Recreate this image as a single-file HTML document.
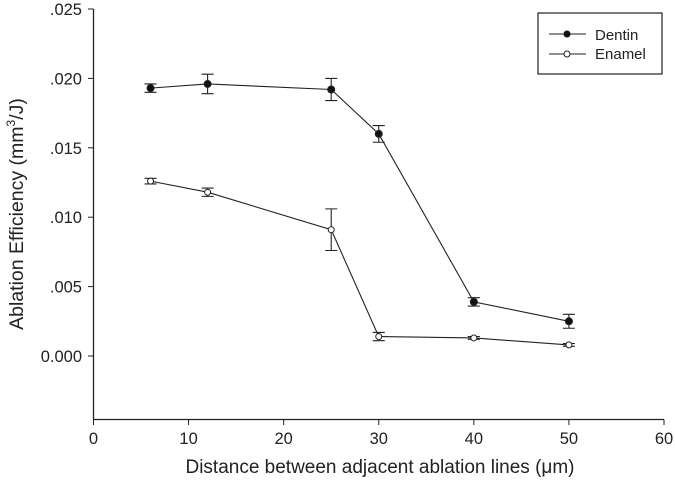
<!DOCTYPE html>
<html><head><meta charset="utf-8"><style>
body{margin:0;background:#fff;}
svg text{font-family:"Liberation Sans",Arial,sans-serif;fill:#222;}
</style></head><body>
<svg id="chart" width="675" height="491" xmlns="http://www.w3.org/2000/svg">
<g id="axes"></g>
<g id="marks"></g>
<text x="380" y="473" font-size="19" text-anchor="middle">Distance between adjacent ablation lines (μm)</text>
<text transform="translate(23,214) rotate(-90)" font-size="19.5" text-anchor="middle">Ablation Efficiency (mm<tspan font-size="12" dy="-8">3</tspan><tspan dy="8">/J)</tspan></text>
<g>
<rect x="538" y="13" width="124" height="61" fill="#fff" stroke="#222" stroke-width="1.2"/>
<g>
<line x1="549" y1="34" x2="586" y2="34" stroke="#222"/><circle cx="567" cy="34" r="3.5" fill="#111"/>
<text x="595" y="40" font-size="15">Dentin</text></g>
<g>
<line x1="549" y1="54" x2="586" y2="54" stroke="#222"/><circle cx="567" cy="54" r="3" fill="#fff" stroke="#222"/>
<text x="595" y="59" font-size="15">Enamel</text></g>
</g>
</svg>
<script>
const xValues=[6,12,25,30,40,50];
const dentin=[0.0193,0.0196,0.0192,0.0160,0.0039,0.0025];
const dentinErr=[0.0003,0.0007,0.0008,0.0006,0.0003,0.0005];
const enamel=[0.0126,0.0118,0.0091,0.0014,0.0013,0.0008];
const enamelErr=[0.0002,0.0003,0.0015,0.0003,0.0001,0.0001];
const xTicks=[0,10,20,30,40,50,60];
const yTicks=[0,0.005,0.010,0.015,0.020,0.025];
const yTickLabels=["0.000",".005",".010",".015",".020",".025"];
const NS="http://www.w3.org/2000/svg";
const X=v=>93.5+v*(664-93.5)/60;
const Y=v=>356-v*(356-9)/0.025;
function mk(tag,attrs,parent){const e=document.createElementNS(NS,tag);for(const k in attrs)e.setAttribute(k,attrs[k]);parent.appendChild(e);return e;}
const axes=document.getElementById('axes'),marks=document.getElementById('marks');
let a=mk('line',{x1:93.5,y1:Y(0.025),x2:93.5,y2:419.5,stroke:'#222','stroke-width':1.3},axes);

a=mk('line',{x1:93.5,y1:419.5,x2:664,y2:419.5,stroke:'#222','stroke-width':1.3},axes);

xTicks.forEach(t=>{mk('line',{x1:X(t),y1:419.5,x2:X(t),y2:425,stroke:'#222'},axes);
const tx=mk('text',{x:X(t),y:444,'font-size':16.5,'text-anchor':'middle'},axes);tx.textContent=t;
});
yTicks.forEach((t,i)=>{mk('line',{x1:88,y1:Y(t),x2:93.5,y2:Y(t),stroke:'#222'},axes);
const tx=mk('text',{x:82,y:Y(t)+6,'font-size':16.5,'text-anchor':'end'},axes);tx.textContent=yTickLabels[i];
});
function series(vals,errs,filled,name){
const g=mk('g',{},marks);

const p=mk('polyline',{points:vals.map((v,i)=>X(xValues[i])+','+Y(v)).join(' '),fill:'none',stroke:'#222','stroke-width':1.1},g);

vals.forEach((v,i)=>{const x=X(xValues[i]),y1=Y(v+errs[i]),y2=Y(v-errs[i]);
const eb=mk('path',{d:`M${x},${y1}V${y2}M${x-6},${y1}H${x+6}M${x-6},${y2}H${x+6}`,stroke:'#222','stroke-width':1.1,fill:'none'},g);

const c=mk('circle',{cx:x,cy:Y(v),r:filled?3.5:3,fill:filled?'#111':'#fff',stroke:'#222'},g);
});
}
series(dentin,dentinErr,true,'dentin');
series(enamel,enamelErr,false,'enamel');
</script>
</body></html>
